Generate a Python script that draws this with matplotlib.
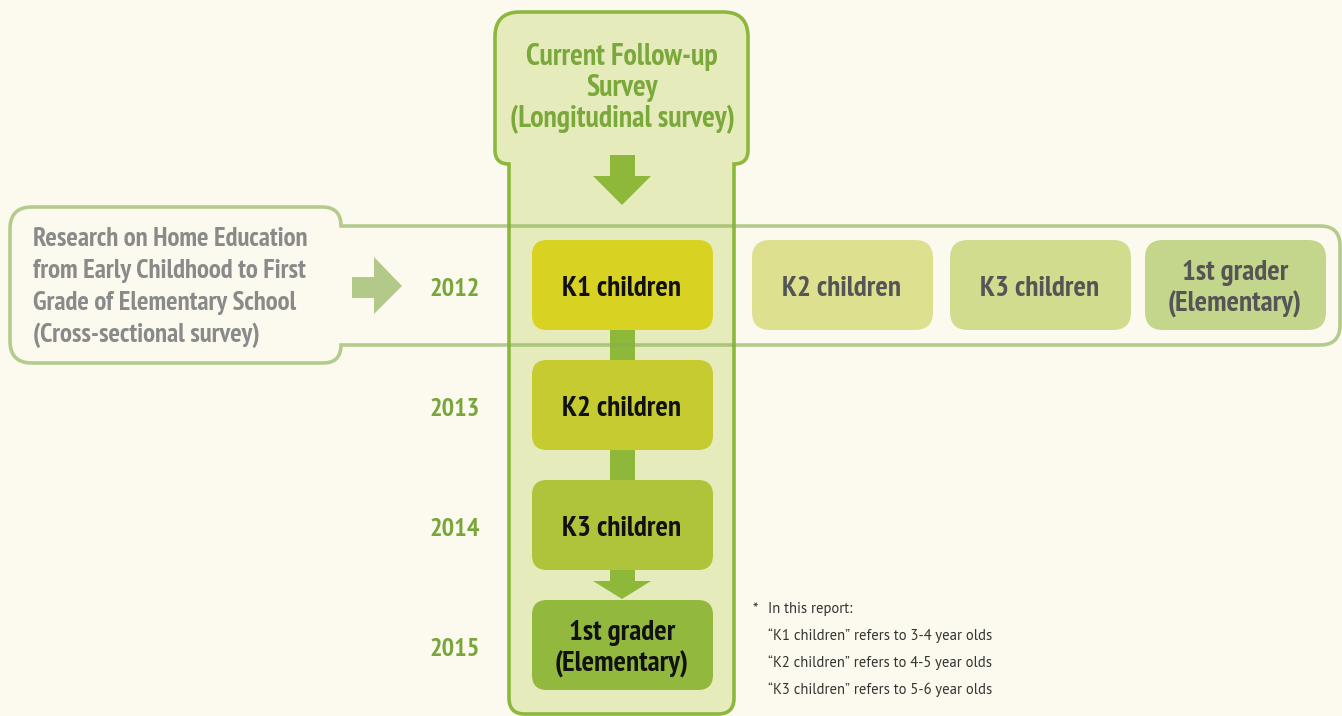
import numpy as np
import matplotlib
matplotlib.use("Agg")
import matplotlib.pyplot as plt
from matplotlib.patches import Polygon, FancyBboxPatch

# condensed families first, plain fallbacks after
plt.rcParams['font.family'] = ['PT Sans Narrow', 'Fira Sans Condensed', 'Barlow Semi Condensed',
                               'Roboto', 'DejaVu Sans']
note_font = ['PT Sans', 'Liberation Sans', 'DejaVu Sans']

# --- content ---
years = ["2012", "2013", "2014", "2015"]
column_labels = ["K1 children", "K2 children", "K3 children", "1st grader\n(Elementary)"]
row_labels = ["K2 children", "K3 children", "1st grader\n(Elementary)"]
header_lines = ["Current Follow-up", "Survey", "(Longitudinal survey)"]
cross_lines = ["Research on Home Education", "from Early Childhood to First",
               "Grade of Elementary School", "(Cross-sectional survey)"]
note_lines = ["In this report:",
              "\u201cK1 children\u201d refers to 3-4 year olds",
              "\u201cK2 children\u201d refers to 4-5 year olds",
              "\u201cK3 children\u201d refers to 5-6 year olds"]

# colours
bg = "#FCFAEE"
col_fill = "#E6EBBC"
col_edge = "#8DB83E"
column_colors = ["#D8D322", "#C6CB30", "#AFC43A", "#93B83E"]
row_colors = ["#DDE08F", "#D1DC8E", "#C3D68C"]


def rounded_poly(corners, **kw):
    # corners: (x, y, radius); quadratic curve at each corner
    pts = []
    n = len(corners)
    for i in range(n):
        x, y, r = corners[i]
        c = np.array([x, y], float)
        if r == 0:
            pts.append(c)
            continue
        prev = np.array(corners[i - 1][:2], float)
        nxt = np.array(corners[(i + 1) % n][:2], float)
        d1 = (prev - c) / np.hypot(*(prev - c))
        d2 = (nxt - c) / np.hypot(*(nxt - c))
        p1, p2 = c + d1 * r, c + d2 * r
        for t in np.linspace(0, 1, 14):
            pts.append((1 - t) ** 2 * p1 + 2 * (1 - t) * t * c + t ** 2 * p2)
    return Polygon(np.array(pts), closed=True, **kw)


fig = plt.figure(figsize=(13.42, 7.16), dpi=100, facecolor=bg)
ax = fig.add_axes([0, 0, 1, 1])
ax.set_xlim(0, 1342)
ax.set_ylim(716, 0)
ax.axis('off')
ax.set_facecolor(bg)

# longitudinal column
ax.add_patch(rounded_poly([(495, 12, 25), (748, 12, 25), (748, 164, 14), (734, 164, 0),
                           (734, 714, 16), (509, 714, 16), (509, 164, 0), (495, 164, 14)],
                          facecolor=col_fill, edgecolor=col_edge, lw=2.6, zorder=1))

# cross-sectional band outline (drawn over the column)
ax.add_patch(rounded_poly([(10, 207, 22), (341, 207, 19), (341, 226, 0), (1340, 226, 20),
                           (1340, 345, 20), (341, 345, 0), (341, 363, 18), (10, 363, 22)],
                          facecolor='none', edgecolor="#86AD4F", alpha=0.6, lw=2.6, zorder=5))

# header text
for i, line in enumerate(header_lines):
    ax.text(622, 57 + i * 31, line, ha='center', va='center', fontsize=21.5,
            fontweight='bold', color="#7BA83A", zorder=6)

# top arrow
ax.add_patch(Polygon([(610, 155), (635, 155), (635, 176), (651, 176), (622, 205),
                      (593, 176), (610, 176)], closed=True, facecolor="#8DB83A",
                     edgecolor='none', zorder=2))

# connecting bar and arrow head
box_top = [240, 360, 480, 600]
box_h = 90
ax.add_patch(Polygon([(610, 330), (635, 330), (635, 581), (651, 581), (622, 599),
                      (593, 581), (610, 581)], closed=True, facecolor="#8DB83A",
                     edgecolor='none', zorder=2))

# column boxes
for i, (lab, c) in enumerate(zip(column_labels, column_colors)):
    y = box_top[i]
    ax.add_patch(FancyBboxPatch((532, y), 181, box_h, boxstyle="round,pad=0,rounding_size=15",
                                facecolor=c, edgecolor='none', zorder=3))
    ax.text(622, y + box_h / 2 + 4, lab, ha='center', va='center', fontsize=21,
            fontweight='bold', color="#111111", linespacing=1.2, zorder=6)
    ax.text(455, y + box_h / 2 + 5, years[i], ha='center', va='center', fontsize=19,
            fontweight='bold', color="#79A63A", zorder=6)

# row boxes for the 2012 cross-section
row_x = [752, 950, 1145]
for x, lab, c in zip(row_x, row_labels, row_colors):
    ax.add_patch(FancyBboxPatch((x, 240), 181, box_h, boxstyle="round,pad=0,rounding_size=18",
                                facecolor=c, edgecolor='none', zorder=3))
    ax.text(x + 90, 289, lab, ha='center', va='center', fontsize=21,
            fontweight='bold', color="#555555", linespacing=1.2, zorder=6)

# cross-sectional label
for i, line in enumerate(cross_lines):
    ax.text(33, 239 + i * 32, line, ha='left', va='center', fontsize=19.4,
            fontweight='bold', color="#8A8A8A", zorder=6)

# right arrow
ax.add_patch(Polygon([(352, 277), (374, 277), (374, 257), (402, 286), (374, 314),
                      (374, 298), (352, 298)], closed=True, facecolor="#B3C98A",
                     edgecolor='none', zorder=2))

# footnote
ax.text(752, 610, "*", ha='left', va='center', fontsize=11, color="#333333", family=note_font)
for i, line in enumerate(note_lines):
    ax.text(768, 609 + i * 27, line, ha='left', va='center', fontsize=10.5,
            color="#333333", family=note_font)

fig.savefig("out.png", dpi=100, facecolor=bg)
